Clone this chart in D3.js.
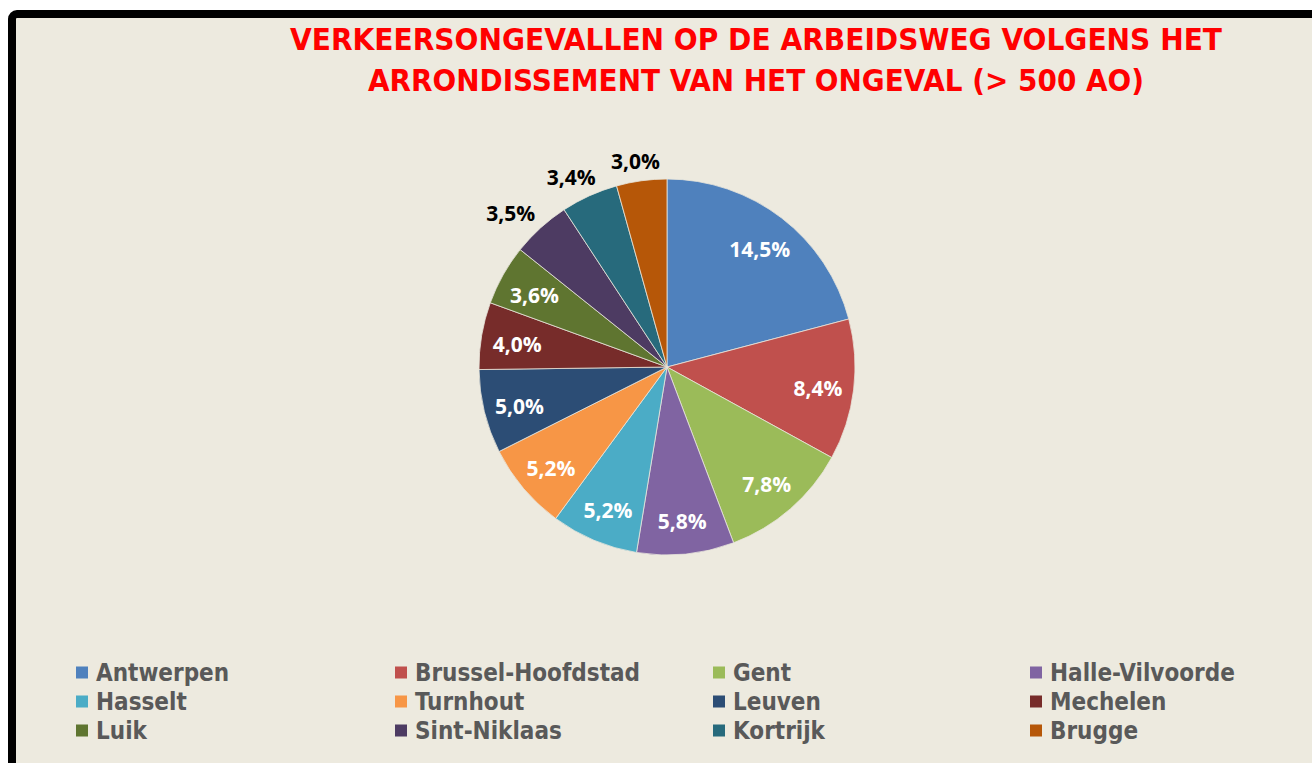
<!DOCTYPE html>
<html>
<head>
<meta charset="utf-8">
<script src="https://cdn.jsdelivr.net/npm/d3@7/dist/d3.min.js"></script>
<style>
  html, body { margin: 0; padding: 0; background: #ffffff; overflow: hidden; }
  svg { display: block; }
</style>
</head>
<body>
<svg id="chart" width="1312" height="763"></svg>
<script>
// Arrondissementen en hun aandeel in de verkeersongevallen op de arbeidsweg
const categories = ["Antwerpen", "Brussel-Hoofdstad", "Gent", "Halle-Vilvoorde",
  "Hasselt", "Turnhout", "Leuven", "Mechelen",
  "Luik", "Sint-Niklaas", "Kortrijk", "Brugge"];
const values = [14.5, 8.4, 7.8, 5.8, 5.2, 5.2, 5.0, 4.0, 3.6, 3.5, 3.4, 3.0];
const colors = ["#4F81BD", "#C0504D", "#9BBB59", "#8064A2",
  "#4BACC6", "#F79646", "#2C4D75", "#772C2A",
  "#5F7530", "#4D3B62", "#276A7C", "#B65708"];
const titleLines = ["VERKEERSONGEVALLEN OP DE ARBEIDSWEG VOLGENS HET",
  "ARRONDISSEMENT VAN HET ONGEVAL (> 500 AO)"];
// labels for the smallest slices are placed outside the pie
const outsideLabels = ["Sint-Niklaas", "Kortrijk", "Brugge"];

const svg = d3.select("#chart");
const fmt = v => d3.format(".1f")(v).replace(".", ",") + "%";

// frame
svg.append("rect")
  .attr("x", 12).attr("y", 14)
  .attr("width", 1330).attr("height", 780)
  .attr("rx", 5).attr("ry", 5)
  .attr("fill", "#EDEADF")
  .attr("stroke", "#000").attr("stroke-width", 8);

// title
svg.append("g").selectAll("text")
  .data(titleLines)
  .join("text")
  .attr("x", 756)
  .attr("y", (d, i) => 50 + i * 41)
  .attr("text-anchor", "middle")
  .attr("font-family", "'DejaVu Sans Condensed', 'DejaVu Sans', sans-serif")
  .attr("font-weight", "bold")
  .attr("font-size", 31)
  .attr("fill", "#FF0000")
  .attr("textLength", (d, i) => i === 0 ? 932 : 776)
  .attr("lengthAdjust", "spacingAndGlyphs")
  .text(d => d);

// pie
const cx = 667, cy = 367, r = 188;
const data = categories.map((c, i) => ({ name: c, value: values[i], color: colors[i] }));
const pie = d3.pie().sort(null).value(d => d.value);
const arc = d3.arc().innerRadius(0).outerRadius(r);
const inArc = d3.arc().innerRadius(152).outerRadius(152);
const arcs = pie(data);

const g = svg.append("g").attr("transform", `translate(${cx},${cy})`);
g.selectAll("path")
  .data(arcs)
  .join("path")
  .attr("d", arc)
  .attr("fill", d => d.data.color)
  .attr("stroke", "#E8E6DC")
  .attr("stroke-width", 0.8);

const labels = g.selectAll("text")
  .data(arcs)
  .join("text")
  .attr("text-anchor", "middle")
  .attr("dy", "0.36em")
  .attr("font-family", "'Open Sans', sans-serif")
  .attr("font-weight", "bold")
  .attr("font-size", 21)
  .attr("fill", d => outsideLabels.includes(d.data.name) ? "#000" : "#fff")
  .text(d => fmt(d.data.value));

labels.attr("transform", function (d) {
  let p;
  if (outsideLabels.includes(d.data.name)) {
    // outside: push the label box just beyond the rim along the slice bisector
    const a = (d.startAngle + d.endAngle) / 2;
    const w = this.getBBox().width, h = 16;
    const s = Math.sin(a), c = -Math.cos(a);
    p = [s * (r + 10) + s * w * 0.7, c * (r + 10) + c * h * 0.6];
  } else {
    const q = inArc.centroid(d);
    p = [q[0], q[1] + 3];
  }
  return `translate(${p[0]},${p[1]})`;
});

// legend: 4 columns x 3 rows
const colX = [76, 395, 713, 1030];
const rowY = [673, 702, 731];
const leg = svg.append("g").selectAll("g")
  .data(data)
  .join("g")
  .attr("transform", (d, i) => `translate(${colX[i % 4]},${rowY[Math.floor(i / 4)]})`);
leg.append("rect")
  .attr("x", 0).attr("y", -6.5)
  .attr("width", 12).attr("height", 12)
  .attr("fill", d => d.color);
leg.append("text")
  .attr("x", 20).attr("y", 0)
  .attr("dy", "0.35em")
  .attr("font-family", "'DejaVu Sans Condensed', 'DejaVu Sans', sans-serif")
  .attr("font-weight", "bold")
  .attr("font-size", 24)
  .attr("fill", "#595959")
  .text(d => d.name);
</script>
</body>
</html>
